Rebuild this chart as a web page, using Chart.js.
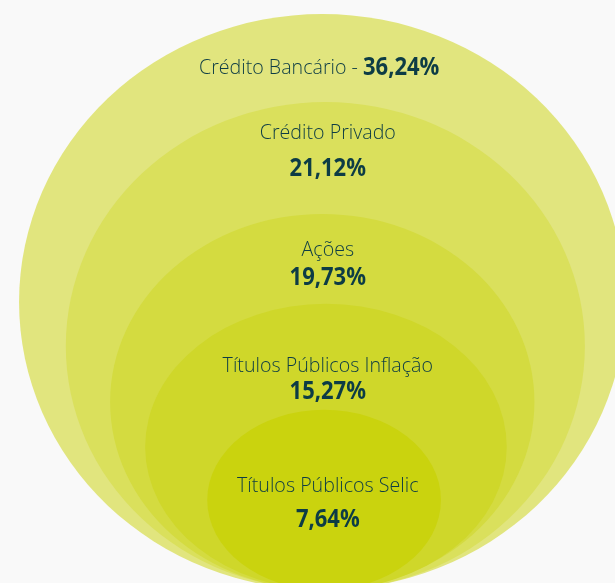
<!DOCTYPE html>
<html lang="pt-BR">

<head>
    <meta charset="UTF-8">
    <meta name="viewport" content="width=device-width, initial-scale=1.0">
    <title>Distribuição da carteira</title>
    <script src="https://cdn.jsdelivr.net/npm/chart.js@4.4.1/dist/chart.umd.min.js"></script>
    <style>
        html, body { margin: 0; padding: 0; background: #f9f9f9; }
        #wrap { width: 615px; height: 583px; position: relative; }
    </style>
</head>

<body>
    <div id="wrap">
        <canvas id="chart"></canvas>
    </div>
    <script>
        // dados
        const categorias = ['Crédito Bancário', 'Crédito Privado', 'Ações', 'Títulos Públicos Inflação', 'Títulos Públicos Selic'];
        const percentuais = [36.24, 21.12, 19.73, 15.27, 7.64];
        const cores = ['#e1e57e', '#dae05c', '#d4db40', '#cfd72a', '#cad30e'];

        // geometria dos aneis (unidades dos eixos)
        const centroX = [0, 0.5, 0, 0.6, 0.3];
        const meiaLargura = [49.3, 42.2, 34.5, 29.4, 19.0];
        const altura = [98.8, 83.7, 64.5, 49.1, 30.9];
        const base = -1.2;
        const xTexto = [-0.5, 0.9, 0.9, 0.9, 0.9];
        const yRotulo = [88.3, 77.1, 57.1, 37.2, 16.6];
        const yValor = [88.3, 71.0, 52.4, 32.8, 10.8];

        const corTexto = '#0d3c45';
        const fonteRotulo = '300 21px "Open Sans"';
        const fonteValor = '700 25px "Open Sans"';
        const apertoRotulo = 0.935;  // texto um pouco mais estreito
        const apertoValor = 0.88;

        function fmt(v) {
            return v.toFixed(2).replace('.', ',') + '%';
        }

        // escreve o texto comprimido na horizontal, alinhado a esquerda
        function escreve(ctx, txt, x, y, aperto) {
            const w = ctx.measureText(txt).width * aperto;
            ctx.fillText(txt, x, y, w);
            return w;
        }

        // desenha as elipses a partir dos pontos do dataset
        const elipses = {
            id: 'elipses',
            beforeDatasetsDraw(chart) {
                const ctx = chart.ctx;
                const xs = chart.scales.x;
                const ys = chart.scales.y;
                chart.data.datasets.forEach((ds, i) => {
                    const p = chart.getDatasetMeta(i).data[0];
                    const rx = xs.getPixelForValue(meiaLargura[i]) - xs.getPixelForValue(0);
                    const ry = ys.getPixelForValue(base) - p.y;
                    ctx.save();
                    ctx.beginPath();
                    ctx.ellipse(p.x, p.y, rx, ry, 0, 0, Math.PI * 2);
                    ctx.fillStyle = ds.backgroundColor;
                    ctx.fill();
                    ctx.restore();
                });
            },
            afterDatasetsDraw(chart) {
                const ctx = chart.ctx;
                const xs = chart.scales.x;
                const ys = chart.scales.y;
                ctx.save();
                ctx.fillStyle = corTexto;
                ctx.textBaseline = 'middle';
                ctx.textAlign = 'left';
                categorias.forEach((c, i) => {
                    const v = fmt(percentuais[i]);
                    const cx = xs.getPixelForValue(xTexto[i]);
                    if (i === 0) {
                        // primeira linha: rotulo e valor juntos
                        const t1 = c + ' - ';
                        ctx.font = fonteRotulo;
                        const w1 = ctx.measureText(t1).width * apertoRotulo;
                        ctx.font = fonteValor;
                        const w2 = ctx.measureText(v).width * apertoValor;
                        const x0 = cx - (w1 + w2) / 2;
                        const y = ys.getPixelForValue(yRotulo[i]);
                        ctx.font = fonteRotulo;
                        escreve(ctx, t1, x0, y, apertoRotulo);
                        ctx.font = fonteValor;
                        escreve(ctx, v, x0 + w1, y, apertoValor);
                    } else {
                        ctx.font = fonteRotulo;
                        let w = ctx.measureText(c).width * apertoRotulo;
                        escreve(ctx, c, cx - w / 2, ys.getPixelForValue(yRotulo[i]), apertoRotulo);
                        ctx.font = fonteValor;
                        w = ctx.measureText(v).width * apertoValor;
                        escreve(ctx, v, cx - w / 2, ys.getPixelForValue(yValor[i]), apertoValor);
                    }
                });
                ctx.restore();
            }
        };

        const ctx = document.getElementById('chart').getContext('2d');
        const myChart = new Chart(ctx, {
            type: 'scatter',
            data: {
                datasets: categorias.map((c, i) => ({
                    label: c,
                    data: [{ x: centroX[i], y: base + altura[i] / 2 }],
                    backgroundColor: cores[i],
                    pointRadius: 0
                }))
            },
            options: {
                responsive: true,
                maintainAspectRatio: false,
                animation: false,
                layout: { padding: 0 },
                scales: {
                    x: { display: false, min: -52.4, max: 47.6 },
                    y: { display: false, min: 0, max: 100 }
                },
                plugins: {
                    legend: { display: false },
                    tooltip: { enabled: false }
                }
            },
            plugins: [elipses]
        });
    </script>

</body>

</html>
